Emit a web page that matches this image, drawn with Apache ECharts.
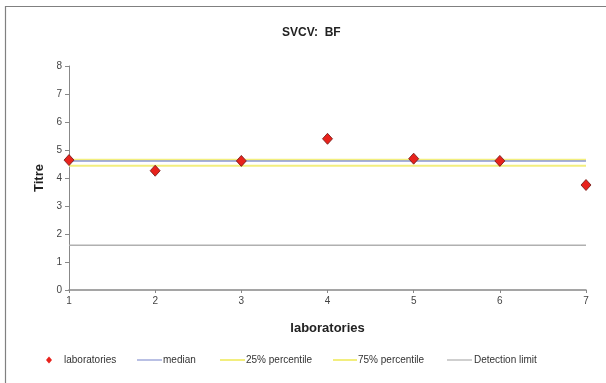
<!DOCTYPE html>
<html><head><meta charset="utf-8">
<script src="https://cdn.jsdelivr.net/npm/echarts@6/dist/echarts.min.js"></script>
<style>html,body{margin:0;padding:0;background:#fff}#c{width:606px;height:383px}</style>
</head><body><div id="c"></div>
<script>
var labs = [1, 2, 3, 4, 5, 6, 7];
var titres = [4.64, 4.26, 4.61, 5.40, 4.69, 4.61, 3.75];
var medianVal = 4.61;
var p25Val = 4.44;
var p75Val = 4.65;
var detectionVal = 1.6;
var xTicks = ['1','2','3','4','5','6','7'];
var yTicks = ['0','1','2','3','4','5','6','7','8'];

var xMin = labs[0], xMax = labs[labs.length - 1];
function hline(v){ return [[xMin, v], [xMax, v]]; }
var font = 'Liberation Sans, Arial, sans-serif';

var cMedian = '#8a97d2', cYellow = '#f2ee7e', cGray = '#b0b0b0', cRed = '#e8221c';

var chart = echarts.init(document.getElementById('c'), null, {renderer:'canvas'});
function lineSeries(name, v, color, width, z){
  return {name:name, type:'line', data:hline(v), symbol:'none', silent:true, z:z,
    itemStyle:{color:color}, lineStyle:{color:color, width:width}, animation:false};
}
function leg(name, left, icon, w, h, color, pad){
  return {data:[{name:name, icon:icon, itemStyle:{color:color, borderWidth:0}}], left:left, top:355,
    itemWidth:w, itemHeight:h, itemGap:0, padding:0, selectedMode:false,
    textStyle:{fontFamily:font, fontSize:10, color:'#333', padding:[0,0,0,pad]}};
}
chart.setOption({
  animation:false,
  title:{text:'SVCV:  BF', left:277, top:22, textStyle:{fontFamily:font, fontSize:12, fontWeight:'bold', color:'#222'}},
  graphic:[{type:'rect', shape:{x:5.5, y:6.5, width:700, height:500}, style:{fill:null, stroke:'#808080', lineWidth:1.2}, silent:true}],
  grid:{left:69, right:20, top:66, bottom:93},
  xAxis:{type:'value', min:xMin, max:xMax, interval:1,
    name:'laboratories', nameLocation:'middle', nameGap:32,
    nameTextStyle:{fontFamily:font, fontSize:13, fontWeight:'bold', color:'#222'},
    axisLine:{lineStyle:{color:'#888', width:1.5}},
    axisTick:{show:true, length:3, lineStyle:{color:'#888'}},
    axisLabel:{fontFamily:font, fontSize:10, color:'#444', margin:6, formatter:function(v){return xTicks[v - xMin];}},
    splitLine:{show:false}},
  yAxis:{type:'value', min:0, max:8, interval:1,
    name:'Titre', nameLocation:'middle', nameGap:21, nameRotate:90,
    nameTextStyle:{fontFamily:font, fontSize:13, fontWeight:'bold', color:'#222'},
    axisLine:{show:true, lineStyle:{color:'#888', width:1}},
    axisTick:{show:true, length:4, lineStyle:{color:'#888'}},
    axisLabel:{fontFamily:font, fontSize:10, color:'#444', margin:7, formatter:function(v){return yTicks[v];}},
    splitLine:{show:false}},
  legend:[
    leg('laboratories', 46, 'diamond', 6, 7, cRed, 7),
    leg('median', 137, 'rect', 25, 1.2, cMedian, -4),
    leg('25% percentile', 220, 'rect', 25, 2, cYellow, -4),
    leg('75% percentile', 333, 'rect', 24, 2, cYellow, -4),
    leg('Detection limit', 447, 'rect', 25, 1.2, cGray, -3)
  ],
  series:[
    lineSeries('Detection limit', detectionVal, cGray, 1.5, 1),
    lineSeries('25% percentile', p25Val, cYellow, 2, 2),
    lineSeries('75% percentile', p75Val, cYellow, 2, 2),
    lineSeries('median', medianVal, cMedian, 1.5, 3),
    {name:'laboratories', type:'scatter', data:labs.map(function(x,i){return [x, titres[i]];}),
      symbol:'diamond', symbolSize:[10,11], z:5,
      itemStyle:{color:cRed, opacity:1, borderColor:'#6e1511', borderWidth:0.8}}
  ]
});
</script></body></html>
